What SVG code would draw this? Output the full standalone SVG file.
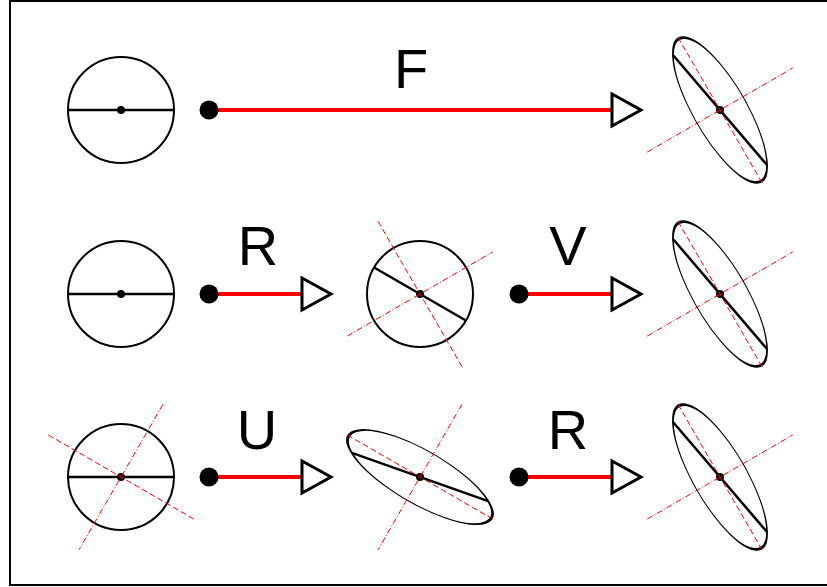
<svg xmlns="http://www.w3.org/2000/svg" width="827" height="587" viewBox="0 0 827 587">
<style>
.shape{fill:none;stroke:#000;stroke-width:2}
.dia{stroke:#000;stroke-width:2.5}
.dot{fill:#000}
.dash{stroke:#ff0000;stroke-width:1;stroke-dasharray:6,3;fill:none}
.dashdot{stroke:#ff0000;stroke-width:1;stroke-dasharray:6,2,1,2;fill:none}
.conn{stroke:#ff0000;stroke-width:4}
.head{fill:#fff;stroke:#000;stroke-width:3;stroke-linejoin:miter}
.src{fill:#000}
.lbl{font-family:"Liberation Sans",Arial,sans-serif;font-size:56px;fill:#000;text-anchor:middle}
</style>
<rect x="10" y="1" width="830" height="584" fill="#fff" stroke="#000" stroke-width="2"/>

<g id="row1-circle">
  <circle class="shape" cx="121" cy="110" r="53"/>
  <line class="dia" x1="68" y1="110" x2="174" y2="110"/>
  <circle class="dot" cx="121" cy="110" r="4"/>
</g>
<g id="row1-ellipse">
  <circle class="shape" r="53" transform="translate(720,110) matrix(0.8877,1.0375,0.0124,0.8876,0,0)"/>
  <line class="dia" x1="673" y1="55" x2="767" y2="165"/>
  <circle class="dot" cx="720" cy="110" r="4"/>
  <line class="dash" x1="678" y1="37.3" x2="762" y2="182.7"/>
  <line class="dashdot" x1="647.3" y1="152" x2="792.7" y2="68"/>
</g>

<g id="row2-circle">
  <circle class="shape" cx="121" cy="294" r="53"/>
  <line class="dia" x1="68" y1="294" x2="174" y2="294"/>
  <circle class="dot" cx="121" cy="294" r="4"/>
</g>
<g id="row2-rotated">
  <circle class="shape" cx="420" cy="294" r="53"/>
  <line class="dia" x1="374.1" y1="267.5" x2="465.9" y2="320.5"/>
  <circle class="dot" cx="420" cy="294" r="4"/>
  <line class="dash" x1="378" y1="221.3" x2="462" y2="366.7"/>
  <line class="dashdot" x1="347.3" y1="336" x2="492.7" y2="252"/>
</g>
<g id="row2-ellipse">
  <circle class="shape" r="53" transform="translate(720,294) matrix(0.8877,1.0375,0.0124,0.8876,0,0)"/>
  <line class="dia" x1="673" y1="239" x2="767" y2="349"/>
  <circle class="dot" cx="720" cy="294" r="4"/>
  <line class="dash" x1="678" y1="221.3" x2="762" y2="366.7"/>
  <line class="dashdot" x1="647.3" y1="336" x2="792.7" y2="252"/>
</g>

<g id="row3-circle">
  <circle class="shape" cx="121" cy="477" r="53"/>
  <line class="dia" x1="68" y1="477" x2="174" y2="477"/>
  <circle class="dot" cx="121" cy="477" r="4"/>
  <line class="dash" x1="48.3" y1="435" x2="193.7" y2="519"/>
  <line class="dashdot" x1="163" y1="404.3" x2="79" y2="549.7"/>
</g>
<g id="row3-stretched">
  <circle class="shape" r="53" transform="translate(420,477) matrix(1.2875,0.4546,0.4546,0.7625,0,0)"/>
  <line class="dia" x1="351.8" y1="452.9" x2="488.2" y2="501.1"/>
  <circle class="dot" cx="420" cy="477" r="4"/>
  <line class="dash" x1="347.3" y1="435" x2="492.7" y2="519"/>
  <line class="dashdot" x1="462" y1="404.3" x2="378" y2="549.7"/>
</g>
<g id="row3-ellipse">
  <circle class="shape" r="53" transform="translate(720,477) matrix(0.8877,1.0375,0.0124,0.8876,0,0)"/>
  <line class="dia" x1="673" y1="422" x2="767" y2="532"/>
  <circle class="dot" cx="720" cy="477" r="4"/>
  <line class="dash" x1="678" y1="404.3" x2="762" y2="549.7"/>
  <line class="dashdot" x1="647.3" y1="519" x2="792.7" y2="435"/>
</g>

<g id="connectors">
  <g id="arrow-F">
    <line class="conn" x1="209" y1="110" x2="612" y2="110"/>
    <circle class="src" cx="209" cy="110" r="9.5"/>
    <polygon class="head" points="612,94 612,126 641,110"/>
  </g>
  <g id="arrow-R1">
    <line class="conn" x1="209" y1="294" x2="302" y2="294"/>
    <circle class="src" cx="209" cy="294" r="9.5"/>
    <polygon class="head" points="302,278 302,310 331,294"/>
  </g>
  <g id="arrow-V">
    <line class="conn" x1="519" y1="294" x2="612" y2="294"/>
    <circle class="src" cx="519" cy="294" r="9.5"/>
    <polygon class="head" points="612,278 612,310 641,294"/>
  </g>
  <g id="arrow-U">
    <line class="conn" x1="209" y1="477" x2="302" y2="477"/>
    <circle class="src" cx="209" cy="477" r="9.5"/>
    <polygon class="head" points="302,461 302,493 331,477"/>
  </g>
  <g id="arrow-R2">
    <line class="conn" x1="519" y1="477" x2="612" y2="477"/>
    <circle class="src" cx="519" cy="477" r="9.5"/>
    <polygon class="head" points="612,461 612,493 641,477"/>
  </g>
</g>

<g id="labels">
  <text class="lbl" x="411" y="88">F</text>
  <text class="lbl" x="258" y="265">R</text>
  <text class="lbl" x="568" y="265">V</text>
  <text class="lbl" x="257" y="449">U</text>
  <text class="lbl" x="568" y="449">R</text>
</g>
</svg>
